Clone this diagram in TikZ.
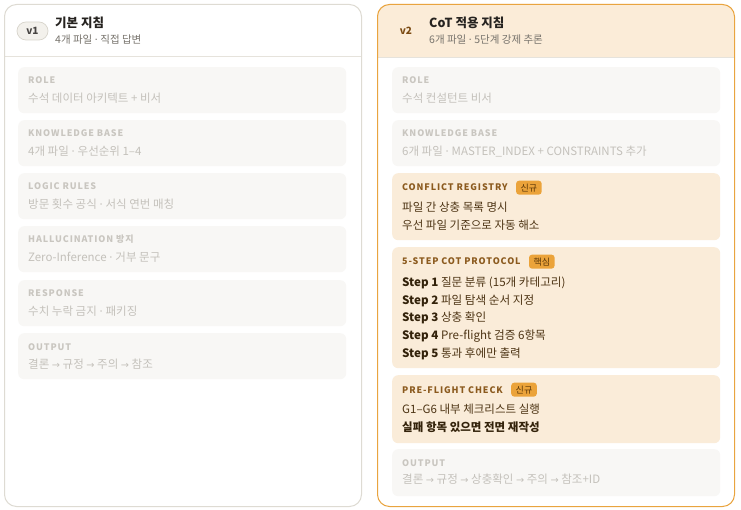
\documentclass[tikz,border=0pt]{standalone}
\usepackage{fontspec}
\setmainfont{Noto Sans CJK KR}
\newfontfamily\capsfont[LetterSpace=10]{Noto Sans CJK KR}
\newfontfamily\symfont{DejaVu Sans}
\newcommand\md{\space{\symfont ·}\space}
\newcommand\ar{\space{\symfont\scalebox{0.85}{→}}\space}
\usetikzlibrary{positioning}
\definecolor{lborder}{HTML}{DEDBD3}
\definecolor{sepc}{HTML}{E6E3DC}
\definecolor{cardbg}{HTML}{F8F7F5}
\definecolor{fadelbl}{HTML}{C9C6C0}
\definecolor{fadebody}{HTML}{C4C1BB}
\definecolor{rborder}{HTML}{E9A43F}
\definecolor{hdrbg}{HTML}{FBECD8}
\definecolor{hicard}{HTML}{FAECD9}
\definecolor{hilbl}{HTML}{8B5A1E}
\definecolor{hibody}{HTML}{4D3414}
\definecolor{hibold}{HTML}{33220A}
\definecolor{badgebg}{HTML}{EBA33A}
\definecolor{badgetx}{HTML}{5A3608}
\definecolor{pillbg}{HTML}{F3F1EC}
\definecolor{pillbd}{HTML}{D8D5CC}
\definecolor{subc}{HTML}{77736C}
\definecolor{titc}{HTML}{262320}
\definecolor{vtwo}{HTML}{7A4A12}
\tikzset{
  panelbox/.style={anchor=north west, inner sep=0, rounded corners=12pt, line width=1pt},
  cardbox/.style={anchor=north west, inner sep=0, rounded corners=6pt, minimum width=328pt},
  plain/.style={cardbox, fill=cardbg},
  hot/.style={cardbox, fill=hicard},
  lbl/.style={anchor=base west, inner sep=0, font=\capsfont\bfseries\fontsize{9}{11}\selectfont},
  fadel/.style={lbl, text=fadelbl},
  hotl/.style={lbl, text=hilbl},
  body/.style={anchor=base west, inner sep=0, font=\fontsize{11.5}{13}\selectfont},
  fadeb/.style={body, text=fadebody},
  hotb/.style={body, text=hibody},
  stepb/.style={anchor=base west, inner sep=0, font=\fontsize{11.6}{13}\selectfont, text=hibody},
  badge/.style={anchor=west, fill=badgebg, text=badgetx, rounded corners=3pt, inner xsep=4.5pt, inner ysep=0pt, minimum height=14pt, font=\fontsize{9}{10}\selectfont},
  ttl/.style={anchor=base west, inner sep=0, font=\bfseries\fontsize{12.5}{14}\selectfont, text=titc},
  sub/.style={anchor=base west, inner sep=0, font=\fontsize{10.5}{12}\selectfont, text=subc},
}
\begin{document}
\begin{tikzpicture}[x=1pt,y=-1pt]
\useasboundingbox (0,0) rectangle (741,510);
% ---------- left panel ----------
\node[panelbox, fill=white, minimum width=357pt, minimum height=502pt] (lp) at (4,4) {};
\draw[sepc, line width=0.8pt] (lp.west |- 0,56) -- (lp.east |- 0,56);
\node[panelbox, draw=lborder, minimum width=357pt, minimum height=502pt] (lpb) at (4,4) {};
\node[fill=pillbg, draw=pillbd, line width=0.7pt, rounded corners=9pt, minimum width=31pt, minimum height=18pt, inner sep=0, font=\bfseries\fontsize{10}{12}\selectfont, text=titc!85] (v1) at (32.5,31) {v1};
\node[ttl] (lt) at (55,28) {기본 지침};
\node[sub] (ls) at (55,43.2) {4개 파일\md 직접 답변};

\node[plain, minimum height=46pt] (c1) at (18,67) {};
\node[fadel] (c1l) at (28,84) {ROLE};
\node[fadeb] (c1b) at (28,102.3) {수석 데이터 아키텍트 + 비서};

\node[plain, minimum height=46pt] (c2) at (18,120) {};
\node[fadel] (c2l) at (28,137) {KNOWLEDGE BASE};
\node[fadeb] (c2b) at (28,155.3) {4개 파일\md 우선순위 1–4};

\node[plain, minimum height=46pt] (c3) at (18,173) {};
\node[fadel] (c3l) at (28,190) {LOGIC RULES};
\node[fadeb] (c3b) at (28,208.3) {방문 횟수 공식\md 서식 연번 매칭};

\node[plain, minimum height=46pt] (c4) at (18,226) {};
\node[fadel] (c4l) at (28,243) {HALLUCINATION 방지};
\node[fadeb] (c4b) at (28,261.3) {Zero-Inference\md 거부 문구};

\node[plain, minimum height=46pt] (c5) at (18,280) {};
\node[fadel] (c5l) at (28,297) {RESPONSE};
\node[fadeb] (c5b) at (28,315.3) {수치 누락 금지\md 패키징};

\node[plain, minimum height=46pt] (c6) at (18,333) {};
\node[fadel] (c6l) at (28,350) {OUTPUT};
\node[fadeb] (c6b) at (28,368.3) {결론\ar 규정\ar 주의\ar 참조};

% ---------- right panel ----------
\node[panelbox, fill=white, minimum width=357pt, minimum height=502pt] (rp) at (377,4) {};
\fill[hdrbg, rounded corners=12pt] (377,4) rectangle (734,57);
\fill[hdrbg] (377,30) rectangle (734,57);
\draw[sepc, line width=0.8pt] (377,57) -- (734,57);
\node[panelbox, draw=rborder, minimum width=357pt, minimum height=502pt] (rpb) at (377,4) {};
\node[inner sep=0, font=\bfseries\fontsize{10}{12}\selectfont, text=vtwo] (v2) at (406,31) {v2};
\node[ttl] (rt) at (429,28) {CoT 적용 지침};
\node[sub] (rs) at (429,43.2) {6개 파일\md 5단계 강제 추론};

\node[plain, minimum height=46pt] (d1) at (392,67) {};
\node[fadel] (d1l) at (402,84) {ROLE};
\node[fadeb] (d1b) at (402,102.3) {수석 컨설턴트 비서};

\node[plain, minimum height=46pt] (d2) at (392,120) {};
\node[fadel] (d2l) at (402,137) {KNOWLEDGE BASE};
\node[fadeb] (d2b) at (402,155.3) {6개 파일\md MASTER\_INDEX + CONSTRAINTS 추가};

\node[hot, minimum height=67pt] (d3) at (392,173) {};
\node[hotl] (d3l) at (402,191) {CONFLICT REGISTRY};
\node[badge, xshift=8pt] (d3g) at (d3l.east) {신규};
\node[hotb] (d3a) at (402,211.3) {파일 간 상충 목록 명시};
\node[hotb] (d3c) at (402,229.3) {우선 파일 기준으로 자동 해소};

\node[hot, minimum height=121pt] (d4) at (392,247) {};
\node[hotl] (d4l) at (402,265) {5-STEP COT PROTOCOL};
\node[badge, xshift=8pt] (d4g) at (d4l.east) {핵심};
\node[stepb] (s1) at (402,286.4) {\textbf{\textcolor{hibold}{Step 1}} 질문 분류 (15개 카테고리)};
\node[stepb] (s2) at (402,304.1) {\textbf{\textcolor{hibold}{Step 2}} 파일 탐색 순서 지정};
\node[stepb] (s3) at (402,321.8) {\textbf{\textcolor{hibold}{Step 3}} 상충 확인};
\node[stepb] (s4) at (402,339.5) {\textbf{\textcolor{hibold}{Step 4}} Pre-flight 검증 6항목};
\node[stepb] (s5) at (402,357.2) {\textbf{\textcolor{hibold}{Step 5}} 통과 후에만 출력};

\node[hot, minimum height=68pt] (d5) at (392,375) {};
\node[hotl] (d5l) at (402,393) {PRE-FLIGHT CHECK};
\node[badge, xshift=8pt] (d5g) at (d5l.east) {신규};
\node[hotb] (d5a) at (402,413.3) {G1–G6 내부 체크리스트 실행};
\node[hotb, font=\bfseries\fontsize{11.5}{13}\selectfont, text=hibold] (d5c) at (402,431.3) {실패 항목 있으면 전면 재작성};

\node[plain, minimum height=47pt] (d6) at (392,449) {};
\node[fadel] (d6l) at (402,466) {OUTPUT};
\node[fadeb] (d6b) at (402,483.3) {결론\ar 규정\ar 상충확인\ar 주의\ar 참조+ID};
\end{tikzpicture}
\end{document}
